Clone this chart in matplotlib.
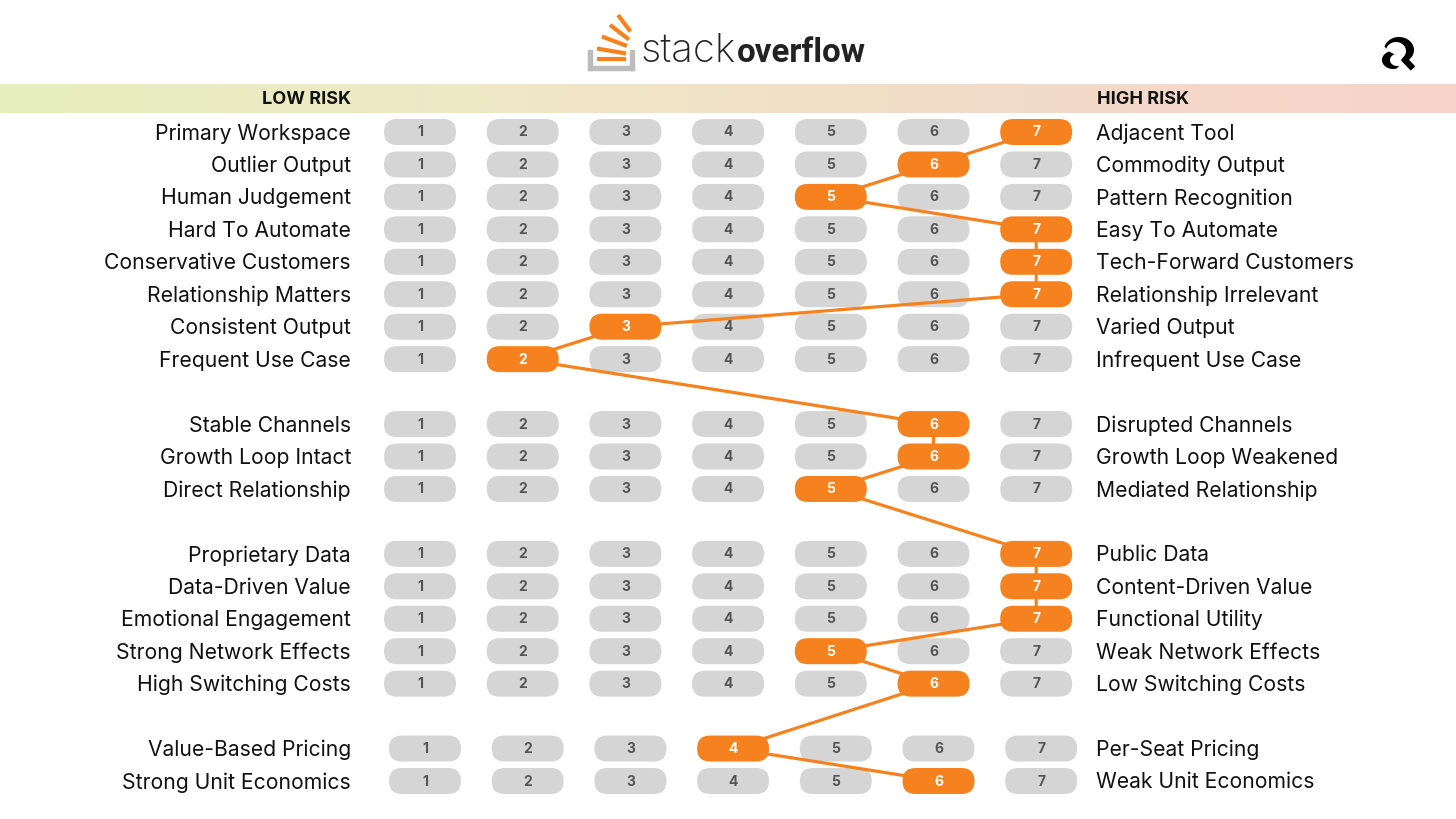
import numpy as np
import matplotlib.pyplot as plt
from matplotlib import font_manager
from matplotlib.patches import FancyBboxPatch, Rectangle, Polygon
from matplotlib.colors import LinearSegmentedColormap

# -----------------------------
# DATA
# -----------------------------

left_labels = [
    "Primary Workspace", "Outlier Output", "Human Judgement", "Hard To Automate",
    "Conservative Customers", "Relationship Matters", "Consistent Output",
    "Frequent Use Case",
    "Stable Channels", "Growth Loop Intact", "Direct Relationship",
    "Proprietary Data", "Data-Driven Value", "Emotional Engagement",
    "Strong Network Effects", "High Switching Costs",
    "Value-Based Pricing", "Strong Unit Economics",
]

right_labels = [
    "Adjacent Tool", "Commodity Output", "Pattern Recognition", "Easy To Automate",
    "Tech-Forward Customers", "Relationship Irrelevant", "Varied Output",
    "Infrequent Use Case",
    "Disrupted Channels", "Growth Loop Weakened", "Mediated Relationship",
    "Public Data", "Content-Driven Value", "Functional Utility",
    "Weak Network Effects", "Low Switching Costs",
    "Per-Seat Pricing", "Weak Unit Economics",
]

scores = [7, 6, 5, 7, 7, 7, 3, 2,
          6, 6, 5,
          7, 7, 7, 5, 6,
          4, 6]

groups = [0] * 8 + [1] * 3 + [2] * 5 + [3] * 2

levels = [1, 2, 3, 4, 5, 6, 7]

# -----------------------------
# LAYOUT / STYLE
# -----------------------------

W, H = 1456, 819
X0, DX = 420, 102.7
Y0, DY = 132, 32.45
GROUP_SHIFT = [0, 0, 0, 5]
PILL_W, PILL_H = 72, 26

ORANGE = "#f5821f"
GREY = "#d5d5d5"
NUM_GREY = "#555555"

plt.rcParams["font.family"] = ["Inter", "DejaVu Sans"]

fig = plt.figure(figsize=(W / 100, H / 100), dpi=100)
ax = fig.add_axes([0, 0, 1, 1])
ax.set_xlim(0, W)
ax.set_ylim(H, 0)
ax.axis("off")


def col_x(level, g):
    return X0 + (level - 1) * DX + GROUP_SHIFT[g]


def row_y(i, g):
    return Y0 + DY * (i + g)


def crescent(cx, cy, rx, ry, icx, icy, irx, iry, t0, t1):
    # outer ellipse arc there, inner ellipse arc back
    t = np.radians(np.linspace(t0, t1, 40))
    outer = np.c_[cx + rx * np.cos(t), cy - ry * np.sin(t)]
    inner = np.c_[icx + irx * np.cos(t[::-1]), icy - iry * np.sin(t[::-1])]
    return np.vstack([outer, inner])


# -----------------------------
# HEADER BAND
# -----------------------------

band = LinearSegmentedColormap.from_list(
    "band", ["#e6efbe", "#efe8c6", "#f2dcc8", "#f8d3cb"])
grad = np.linspace(0, 1, 512).reshape(1, -1)
ax.imshow(grad, cmap=band, extent=[0, W, 113, 84], aspect="auto", zorder=0)

ax.text(351, 99.5, "LOW RISK", ha="right", va="center", fontsize=13,
        fontweight="bold", color="#111111")
ax.text(1097, 99.5, "HIGH RISK", ha="left", va="center", fontsize=13,
        fontweight="bold", color="#111111")

# -----------------------------
# STACK OVERFLOW LOGO
# -----------------------------

tray = "#bcbcbc"
ax.add_patch(Rectangle((588, 50), 4, 20, color=tray, zorder=2))
ax.add_patch(Rectangle((630, 50), 4, 20, color=tray, zorder=2))
ax.add_patch(Rectangle((588, 66), 46, 4, color=tray, zorder=2))

bars = [((597, 59), (626, 59)), ((597, 48.5), (626, 53.5)),
        ((602, 36.5), (627, 46)), ((610, 25), (629, 39.5)),
        ((618, 15), (630.5, 31.5))]
for (xa, ya), (xb, yb) in bars:
    ax.plot([xa, xb], [ya, yb], color=ORANGE, lw=3.0, solid_capstyle="butt")

narrow = "Liberation Sans Narrow"
have_narrow = any(f.name == narrow for f in font_manager.fontManager.ttflist)

ax.text(641, 62, "stack", ha="left", va="baseline", fontsize=29,
        color="#222222", fontweight="light")
if have_narrow:
    ax.text(737, 62, "overflow", ha="left", va="baseline", fontsize=29,
            color="#222222", fontweight="bold", family=narrow)
else:
    ax.text(737, 62, "overflow", ha="left", va="baseline", fontsize=23.8,
            color="#222222", fontweight="bold", family="Roboto")

# right corner logo
ax.add_patch(Polygon(crescent(1399, 50, 15, 13, 1396, 51, 10, 9, 165, -55),
                     color="black", lw=0))
ax.add_patch(Polygon(crescent(1393, 60, 11, 9, 1397, 60, 7, 6, 110, 290),
                     color="black", lw=0))
ax.plot([1403, 1413], [58, 68.5], color="black", lw=4.5, solid_capstyle="butt")

# -----------------------------
# ROWS
# -----------------------------

for i, (ll, rl, s, g) in enumerate(zip(left_labels, right_labels, scores, groups)):
    y = row_y(i, g)
    ax.text(351, y + 1.5, ll, ha="right", va="center", fontsize=15.2, color="#111111")
    ax.text(1096, y + 1.5, rl, ha="left", va="center", fontsize=15.2, color="#111111")
    for lv in levels:
        x = col_x(lv, g)
        picked = lv == s
        ax.add_patch(FancyBboxPatch(
            (x - PILL_W / 2, y - PILL_H / 2), PILL_W, PILL_H,
            boxstyle="round,pad=0,rounding_size=13",
            facecolor=ORANGE if picked else GREY, edgecolor="none",
            zorder=4 if picked else 2))
        ax.text(x, y + 0.5, str(lv), ha="center", va="center", fontsize=10,
                fontweight="bold", color="white" if picked else NUM_GREY,
                zorder=5)

# connector lines between picked pills
xs = [col_x(s, g) for s, g in zip(scores, groups)]
ys = [row_y(i, g) for i, g in enumerate(groups)]
ax.plot(xs, ys, color=ORANGE, lw=2.3, solid_joinstyle="round", zorder=3)

fig.savefig("out.png", dpi=100, facecolor="white")
